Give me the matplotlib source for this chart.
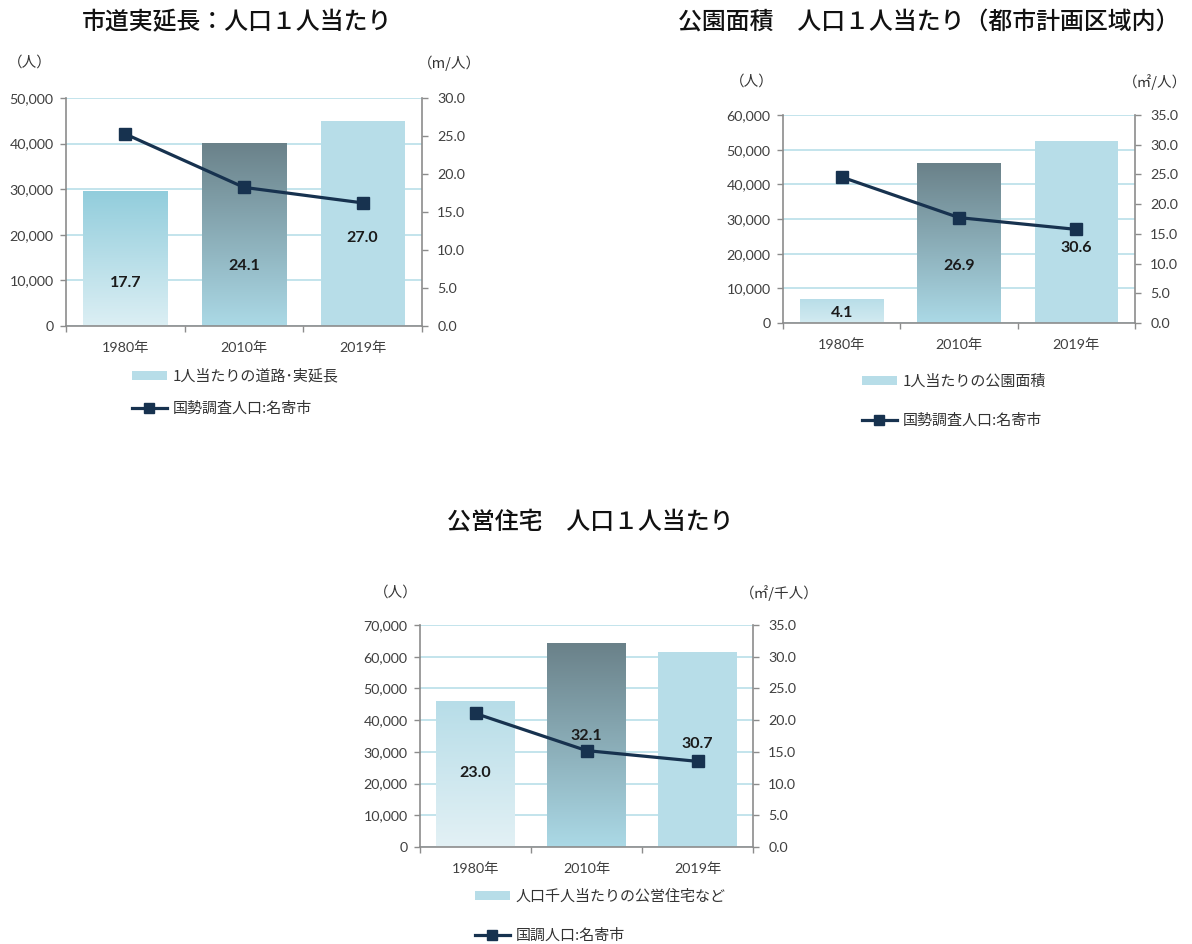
import numpy as np
import matplotlib
matplotlib.use('Agg')
import matplotlib.pyplot as plt
from matplotlib.patches import Patch
from matplotlib.lines import Line2D
from matplotlib.ticker import FuncFormatter
from matplotlib.font_manager import FontProperties
from matplotlib.colors import to_rgb

# ---------------- data ----------------
years = ['1980年', '2010年', '2019年']
population = [42100, 30400, 27000]          # 国勢調査人口：名寄市 (left axis)

road_per_capita = [17.7, 24.1, 27.0]        # m/人
park_per_capita = [4.1, 26.9, 30.6]         # ㎡/人
housing_per_1000 = [23.0, 32.1, 30.7]       # ㎡/千人

titles = ['市道実延長：人口１人当たり',
          '公園面積　人口１人当たり（都市計画区域内）',
          '公営住宅　人口１人当たり']
bar_labels = ['1人当たりの道路･実延長', '1人当たりの公園面積', '人口千人当たりの公営住宅など']
line_labels = ['国勢調査人口:名寄市', '国勢調査人口:名寄市', '国調人口:名寄市']
unit_left = '（人）'
unit_rights = ['（m/人）', '（㎡/人）', '（㎡/千人）']

# ---------------- style ----------------
W, H = 1192, 944
CJK = ['Noto Sans CJK JP', 'DejaVu Sans']
NUM = ['Lato', 'Noto Sans CJK JP', 'DejaVu Sans']
TICKC = '#404040'
GRID = '#b9dfe9'
SPINE = '#8c8c8c'
FLAT = '#b7dde8'
LINEC = '#17324f'

fig = plt.figure(figsize=(W / 100, H / 100), dpi=100)
fig.patch.set_facecolor('white')


def gradient_fill(ax, patch, top, bottom):
    x0, y0 = patch.get_x(), patch.get_y()
    w, h = patch.get_width(), patch.get_height()
    n = 256
    t = np.linspace(0, 1, n)[:, None]
    c_top, c_bot = np.array(to_rgb(top)), np.array(to_rgb(bottom))
    img = (c_top[None, None, :] * (1 - t[:, :, None]) + c_bot[None, None, :] * t[:, :, None])
    im = ax.imshow(img, extent=[x0, x0 + w, y0, y0 + h], origin='upper',
                   aspect='auto', zorder=patch.get_zorder() + 0.1, interpolation='bilinear')
    im.set_clip_path(patch)
    patch.set_facecolor('none')


def draw(rect_px, values, pop_max, pop_step, rate_max, rate_step, title, title_xy,
         unit_r, unit_l_xy, unit_r_xy, bar_label, line_label, legend_xy,
         legend_spacing, label_pos, grad_1980):
    l, r, t, b = rect_px
    ax = fig.add_axes([l / W, 1 - b / H, (r - l) / W, (b - t) / H])
    x = np.arange(len(years))
    ax.set_xlim(-0.5, len(years) - 0.5)
    ax.set_ylim(0, pop_max)
    ax.set_yticks(np.arange(0, pop_max + 1, pop_step))
    ax.yaxis.set_major_formatter(FuncFormatter(lambda v, p: f'{int(v):,}'))
    ax.grid(axis='y', color=GRID, lw=1.2)
    ax.set_axisbelow(True)
    for s in ax.spines.values():
        s.set_visible(False)
    ax.tick_params(axis='y', length=4, width=1, color=SPINE, pad=5, labelcolor=TICKC, labelsize=10.3)
    for lab in ax.get_yticklabels():
        lab.set_family(NUM)
    ax.set_xticks(x)
    ax.set_xticklabels(years, family=NUM, fontsize=10.3, color=TICKC)
    ax.set_xticks(np.arange(-0.5, len(years), 1.0), minor=True)
    ax.tick_params(axis='x', which='major', length=0, pad=11)
    ax.tick_params(axis='x', which='minor', length=4, width=1, color=SPINE)

    ax2 = ax.twinx()
    ax2.set_ylim(0, rate_max)
    ax2.set_yticks(np.arange(0, rate_max + 0.01, rate_step))
    ax2.yaxis.set_major_formatter(FuncFormatter(lambda v, p: f'{v:.1f}'))
    ax2.tick_params(axis='y', length=4, width=1, color=SPINE, pad=7, labelcolor=TICKC, labelsize=10.3)
    for lab in ax2.get_yticklabels():
        lab.set_family(NUM)
    for k in ['left', 'right', 'bottom']:
        ax2.spines[k].set_color(SPINE)
        ax2.spines[k].set_linewidth(1.2)
        ax2.spines[k].set_zorder(5)
    ax2.spines['top'].set_visible(False)
    bars = ax2.bar(x, values, width=0.71, color=FLAT, zorder=2, linewidth=0)
    gradient_fill(ax2, bars[0], grad_1980[0], grad_1980[1])
    gradient_fill(ax2, bars[1], '#6a8189', '#abd9e6')
    ax2.set_xlim(-0.5, len(years) - 0.5)
    ax2.set_ylim(0, rate_max)
    for xi, v, lp in zip(x, values, label_pos):
        ax2.text(xi, lp, f'{v:.1f}', ha='center', va='center', fontsize=11.5,
                 fontweight='bold', family=NUM, color='#1a1a1a', zorder=6)

    ax3 = ax.twinx()
    ax3.set_ylim(0, pop_max)
    ax3.plot(x, population, color=LINEC, lw=2.3, marker='s', markersize=9,
             markerfacecolor=LINEC, markeredgecolor=LINEC, zorder=5)
    ax3.axis('off')
    ax3.set_xlim(-0.5, len(years) - 0.5)
    ax3.set_ylim(0, pop_max)

    fig.text(title_xy[0] / W, 1 - title_xy[1] / H, title, ha='center', va='center',
             fontsize=17.2, fontweight='medium', family=CJK, color='#111111')
    fig.text(unit_l_xy[0] / W, 1 - unit_l_xy[1] / H, unit_left, ha='center', va='center',
             fontsize=10.5, family=CJK, color='#333333')
    fig.text(unit_r_xy[0] / W, 1 - unit_r_xy[1] / H, unit_r, ha='center', va='center',
             fontsize=10.5, family=CJK, color='#333333')

    handles = [Patch(facecolor=FLAT, edgecolor='none'),
               Line2D([0], [0], color=LINEC, lw=2.3, marker='s', markersize=7,
                      markerfacecolor=LINEC, markeredgecolor=LINEC)]
    fig.legend(handles, [bar_label, line_label], loc='upper left',
               bbox_to_anchor=(legend_xy[0] / W, 1 - legend_xy[1] / H),
               frameon=False, prop=FontProperties(family=CJK, size=10.8),
               handlelength=2.3, handleheight=0.55, handletextpad=0.4,
               labelspacing=legend_spacing, borderpad=0, borderaxespad=0,
               labelcolor='#333333', numpoints=1)


draw((66, 422, 98, 326), road_per_capita, 50000, 10000, 30.0, 5.0, titles[0], (237, 22),
     unit_rights[0], (30, 63), (449, 63), bar_labels[0], line_labels[0], (132, 369), 1.2,
     [5.7, 7.9, 11.6], ('#92cddc', '#dceff4'))

draw((783, 1135, 115, 323), park_per_capita, 60000, 10000, 35.0, 5.0, titles[1], (929, 22),
     unit_rights[1], (752, 82), (1155, 82), bar_labels[1], line_labels[1], (862, 375), 1.65,
     [1.7, 9.6, 12.6], ('#b7dde8', '#d3ebf1'))

draw((420, 753, 625, 847), housing_per_1000, 70000, 10000, 35.0, 5.0, titles[2], (590, 522),
     unit_rights[2], (396, 593), (779, 593), bar_labels[2], line_labels[2], (475, 890), 1.65,
     [11.7, 17.5, 16.2], ('#b7dde8', '#e3f1f5'))

fig.savefig('out.png', dpi=100, facecolor='white')
